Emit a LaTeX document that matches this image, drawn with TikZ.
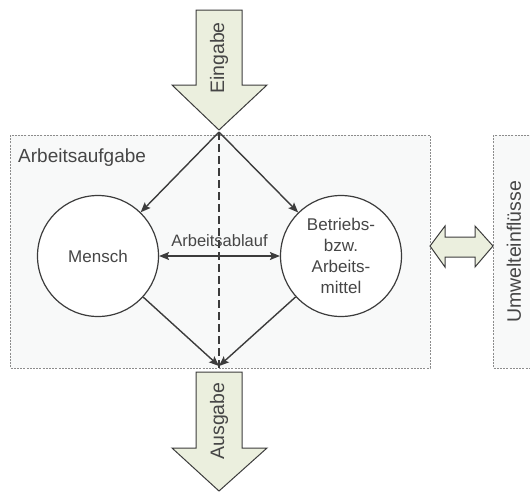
\documentclass[tikz,border=0pt]{standalone}
\usepackage{fontspec}
\setmainfont{Liberation Sans}
\usetikzlibrary{arrows.meta}

\definecolor{panelfill}{RGB}{248,249,249}
\definecolor{panelline}{RGB}{140,140,140}
\definecolor{arrowfill}{RGB}{235,239,222}
\definecolor{inkline}{RGB}{60,60,60}
\definecolor{inktext}{RGB}{70,70,70}

\tikzset{
  panel/.style={fill=panelfill, draw=panelline, line width=0.8pt, dash pattern=on 2pt off 1.2pt},
  bigarrow/.style={fill=arrowfill, draw=inkline, line width=1pt},
  station/.style={circle, draw=inkline, fill=white, line width=1.2pt, minimum size=121pt, inner sep=0pt,
                  align=center, text=inktext, font=\fontsize{17}{21}\selectfont},
  flow/.style={draw=inkline, line width=1.4pt, -{Stealth[length=10pt,width=8pt,inset=2pt]}},
  label/.style={text=inktext, inner sep=0pt},
}

\begin{document}
\begin{tikzpicture}[x=1pt, y=-1pt]
\useasboundingbox (0,0) rectangle (530,493);

% work system and environment panels
\path[panel] (10,135) rectangle (430,368);
\path[panel] (493,135) rectangle (531,368);
\node[label, anchor=base west, font=\fontsize{19}{22}\selectfont] (aufgabe) at (18,162) {Arbeitsaufgabe};
\node[label, rotate=90, font=\fontsize{19.5}{22}\selectfont] (umwelt) at (514,252) {Umwelteinflüsse};

% input and output block arrows
\draw[bigarrow] (196,10) -- (242,10) -- (242,85) -- (267,85) -- (219,130) -- (172,85) -- (196,85) -- cycle;
\node[label, rotate=90, font=\fontsize{19.5}{22}\selectfont] (eingabe) at (219,58) {Eingabe};
\draw[bigarrow] (196,372) -- (242,372) -- (242,448) -- (267,448) -- (219,491) -- (172,448) -- (196,448) -- cycle;
\node[label, rotate=90, font=\fontsize{19.5}{22}\selectfont] (ausgabe) at (219,421) {Ausgabe};

% exchange with the environment
\draw[bigarrow] (430,246) -- (445,226) -- (445,237) -- (475,237) -- (475,226) -- (493,246)
  -- (475,267) -- (475,257) -- (445,257) -- (445,267) -- cycle;

% entry and exit points of the work system
\coordinate (ein) at (219,132);
\coordinate (aus) at (219,366);
\draw[inkline, line width=1.1pt, dash pattern=on 8pt off 4pt] (ein) -- (219,368);

% the two elements of the work system
\node[station] (mensch) at (98,256) {Mensch};
\node[station] (mittel) at (341,256) {Betriebs-\\bzw.\\Arbeits-\\mittel};

\draw[flow] (ein) -- (mensch);
\draw[flow] (ein) -- (mittel);
\draw[flow] (mensch) -- (aus);
\draw[flow] (mittel) -- (aus);
\draw[flow, {Stealth[length=10pt,width=8pt,inset=2pt]}-{Stealth[length=10pt,width=8pt,inset=2pt]}]
  (mensch) -- node[label, above=9pt, font=\fontsize{16.5}{20}\selectfont] (ablauf) {Arbeitsablauf} (mittel);
\end{tikzpicture}
\end{document}
